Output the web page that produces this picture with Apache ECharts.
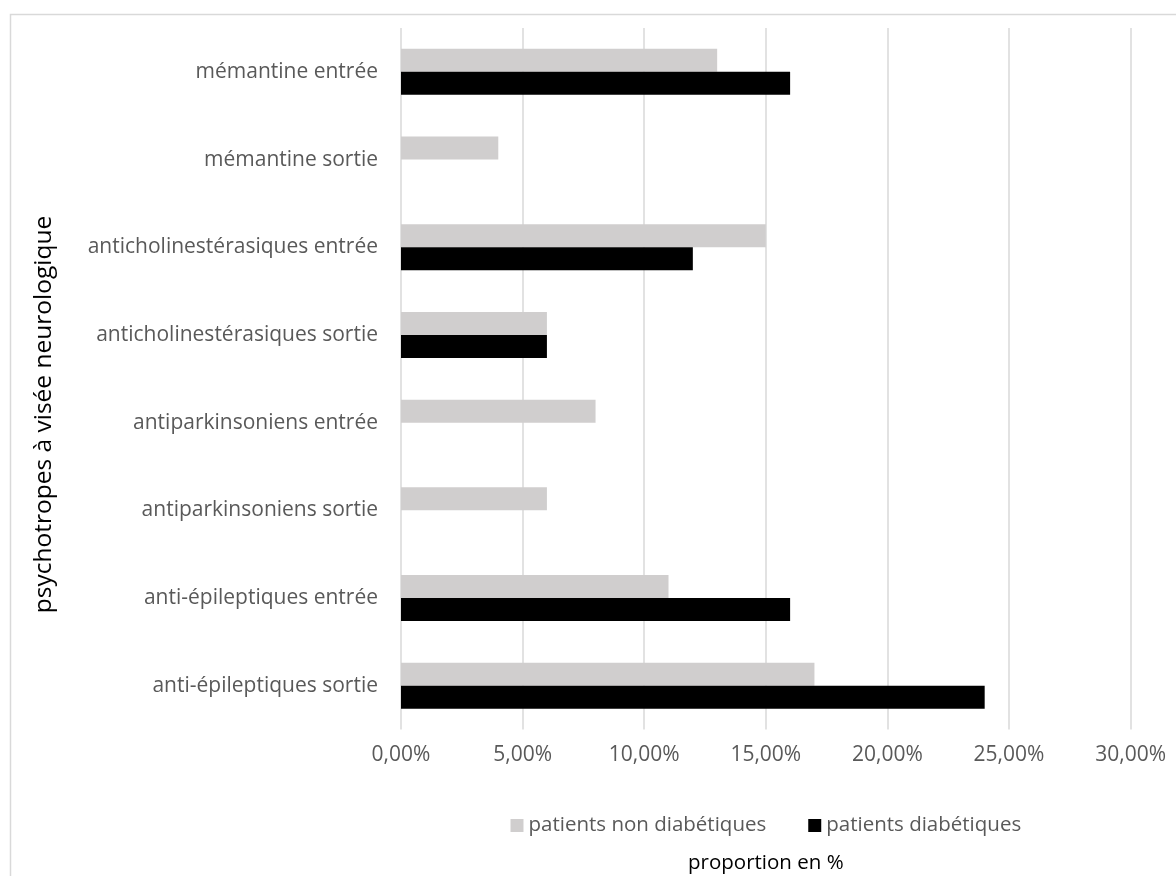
<!DOCTYPE html>
<html>
<head>
<meta charset="utf-8">
<script src="https://cdn.jsdelivr.net/npm/echarts@6/dist/echarts.min.js"></script>
<style>
html,body{margin:0;padding:0;background:#fff;}
#chart{width:1176px;height:876px;}
</style>
</head>
<body>
<div id="chart"></div>
<script>
// categories listed bottom to top
const categories = [
  'anti-épileptiques sortie',
  'anti-épileptiques entrée',
  'antiparkinsoniens sortie',
  'antiparkinsoniens entrée',
  'anticholinestérasiques sortie',
  'anticholinestérasiques entrée',
  'mémantine sortie',
  'mémantine entrée'
];
const nonDiabetiques = [17, 11, 6, 8, 6, 15, 4, 13];
const diabetiques = [24, 16, null, null, 6, 12, null, 16];
const seriesNames = ['patients non diabétiques', 'patients diabétiques'];
const xTicks = { min: 0, max: 30, interval: 5 };

const FONT = 'Open Sans';
const chart = echarts.init(document.getElementById('chart'));
chart.setOption({
  animation: false,
  backgroundColor: '#ffffff',
  textStyle: { fontFamily: FONT },
  grid: { left: 401, right: 45.4, top: 28, bottom: 146.4, containLabel: false, outerBoundsMode: 'none' },
  legend: {
    data: seriesNames,
    left: 510.5, top: 815, padding: 0,
    itemWidth: 13, itemHeight: 13, itemGap: 42,
    icon: 'rect',
    textStyle: { fontFamily: FONT, fontSize: 20.5, color: '#595959' }
  },
  xAxis: {
    type: 'value',
    min: xTicks.min, max: xTicks.max, interval: xTicks.interval,
    axisLine: { show: false }, axisTick: { show: false },
    splitLine: { lineStyle: { color: '#d9d9d9', width: 1.5 } },
    axisLabel: {
      margin: 15, fontFamily: FONT, fontSize: 21, color: '#595959',
      formatter: v => v.toFixed(2).replace('.', ',') + '%'
    },
    name: 'proportion en %', nameLocation: 'middle', nameGap: 123,
    nameTextStyle: { fontFamily: FONT, fontSize: 20.5, color: '#000000' }
  },
  yAxis: {
    type: 'category', data: categories,
    axisLine: { show: false }, axisTick: { show: false },
    splitLine: { show: false },
    axisLabel: { margin: 23, fontFamily: FONT, fontSize: 21, color: '#595959' }
  },
  graphic: [
    { type: 'rect', left: 8, top: 12, shape: { width: 1200, height: 900 }, style: { fill: 'none', stroke: '#d9d9d9', lineWidth: 1.5 }, silent: true },
    { type: 'text', x: 44, y: 414.5, rotation: Math.PI / 2,
      style: { text: 'psychotropes à visée neurologique', fontFamily: FONT, fontSize: 24.5, fill: '#000000', align: 'center', verticalAlign: 'middle' } }
  ],
  series: [
    { name: seriesNames[0], type: 'bar', data: nonDiabetiques, barWidth: 23, barGap: '0%', itemStyle: { color: '#d0cece' } },
    { name: seriesNames[1], type: 'bar', data: diabetiques, barWidth: 23, barGap: '0%', itemStyle: { color: '#000000' } }
  ]
});
</script>
</body>
</html>
